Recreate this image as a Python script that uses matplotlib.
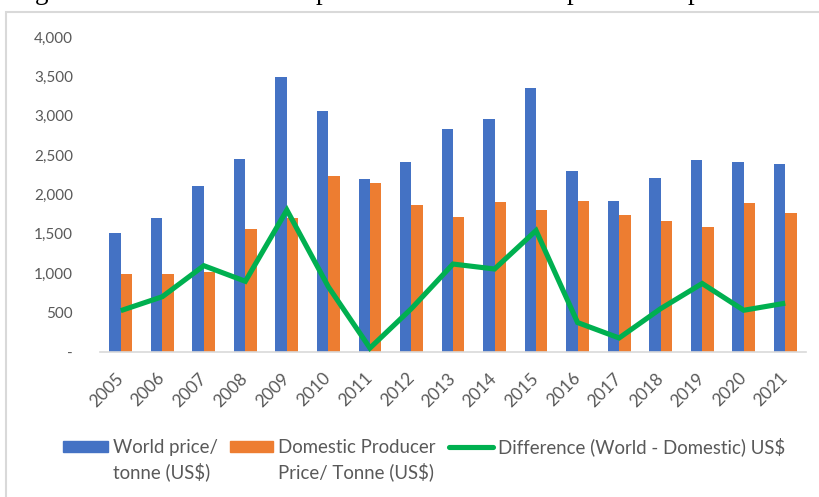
import numpy as np
import matplotlib
matplotlib.use("Agg")
import matplotlib.pyplot as plt
from matplotlib.patches import Rectangle
from matplotlib.lines import Line2D

years = ["2005", "2006", "2007", "2008", "2009", "2010", "2011", "2012", "2013",
         "2014", "2015", "2016", "2017", "2018", "2019", "2020", "2021"]
world_price = [1515, 1705, 2105, 2450, 3495, 3060, 2195, 2410, 2830,
               2960, 3350, 2295, 1918, 2205, 2440, 2410, 2385]
domestic_price = [995, 995, 1020, 1560, 1705, 2235, 2150, 1862, 1715,
                  1905, 1805, 1918, 1745, 1660, 1588, 1888, 1762]
difference = [525, 702, 1096, 898, 1803, 827, 50, 552, 1117,
              1054, 1542, 374, 178, 550, 870, 530, 620]
ytick_values = [0, 500, 1000, 1500, 2000, 2500, 3000, 3500, 4000]
ytick_labels = ["-", "500", "1,000", "1,500", "2,000", "2,500", "3,000", "3,500", "4,000"]

BLUE = "#4472C4"
ORANGE = "#ED7D31"
GREEN = "#00B050"
GREY_TXT = "#595959"
GREY_LINE = "#D9D9D9"
FONT = "Lato"

W, H = 820, 497
fig = plt.figure(figsize=(W / 100, H / 100), dpi=100)


def fx(px):
    return px / W


def fy(py):
    return 1 - py / H


# outer chart frame
fig.patches.append(Rectangle((fx(6), fy(560)), fx(900), fy(12) - fy(560),
                             transform=fig.transFigure, fill=False,
                             edgecolor=GREY_LINE, linewidth=1.5))

# tail of the caption line above the frame
for ch, px in [("g", 35), ("p", 316), ("p", 567), ("p", 688)]:
    fig.text(fx(px), fy(-1.3), ch, family="Liberation Serif", fontsize=19.5,
             color="black", ha="left", va="baseline")

ax = fig.add_axes([fx(100), fy(352), fx(806) - fx(100), fy(37) - fy(352)])

x = np.arange(len(years))
bw = 0.275
ax.bar(x - bw / 2, world_price, width=bw, color=BLUE, zorder=2)
ax.bar(x + bw / 2, domestic_price, width=bw, color=ORANGE, zorder=2)
ax.plot(x, difference, color=GREEN, linewidth=3.7, zorder=3,
        solid_joinstyle="miter", solid_capstyle="butt")

ax.set_xlim(-0.5, len(years) - 0.5)
ax.set_ylim(0, 4000)
ax.set_yticks(ytick_values)
ax.set_yticklabels(ytick_labels)
ax.set_xticks(x)
ax.set_xticklabels(years)

for s in ["top", "right", "left"]:
    ax.spines[s].set_visible(False)
ax.spines["bottom"].set_color(GREY_LINE)
ax.spines["bottom"].set_linewidth(1.2)

ax.tick_params(axis="y", length=0, pad=19.4, labelsize=11, labelcolor=GREY_TXT)
ax.tick_params(axis="x", length=0, pad=17, labelsize=12.5, labelcolor=GREY_TXT)
for lab in ax.get_yticklabels():
    lab.set_fontfamily(FONT)
for lab in ax.get_xticklabels():
    lab.set_fontfamily(FONT)
    lab.set_rotation(45)
    lab.set_ha("right")
    lab.set_va("center")
    lab.set_rotation_mode("anchor")

# legend drawn below the axis
leg_fs = 13.4
fig.patches.append(Rectangle((fx(63), fy(452)), fx(108) - fx(63), fy(441) - fy(452),
                             transform=fig.transFigure, color=BLUE))
fig.patches.append(Rectangle((fx(230), fy(452)), fx(273) - fx(230), fy(441) - fy(452),
                             transform=fig.transFigure, color=ORANGE))
fig.lines.append(Line2D([fx(449), fx(493)], [fy(446.7), fy(446.7)],
                        transform=fig.transFigure, color=GREEN, linewidth=3.7,
                        solid_capstyle="round"))
legend_lines = [
    (113, 453.3, "World price/"),
    (113, 478.3, "tonne (US$)"),
    (278, 453.3, "Domestic Producer"),
    (278, 478.3, "Price/ Tonne (US$)"),
    (498, 453.3, "Difference (World - Domestic) US$"),
]
for px, py, txt in legend_lines:
    fig.text(fx(px), fy(py), txt, family=FONT, fontsize=leg_fs, color=GREY_TXT,
             ha="left", va="baseline")

fig.savefig("out.png", dpi=100)
